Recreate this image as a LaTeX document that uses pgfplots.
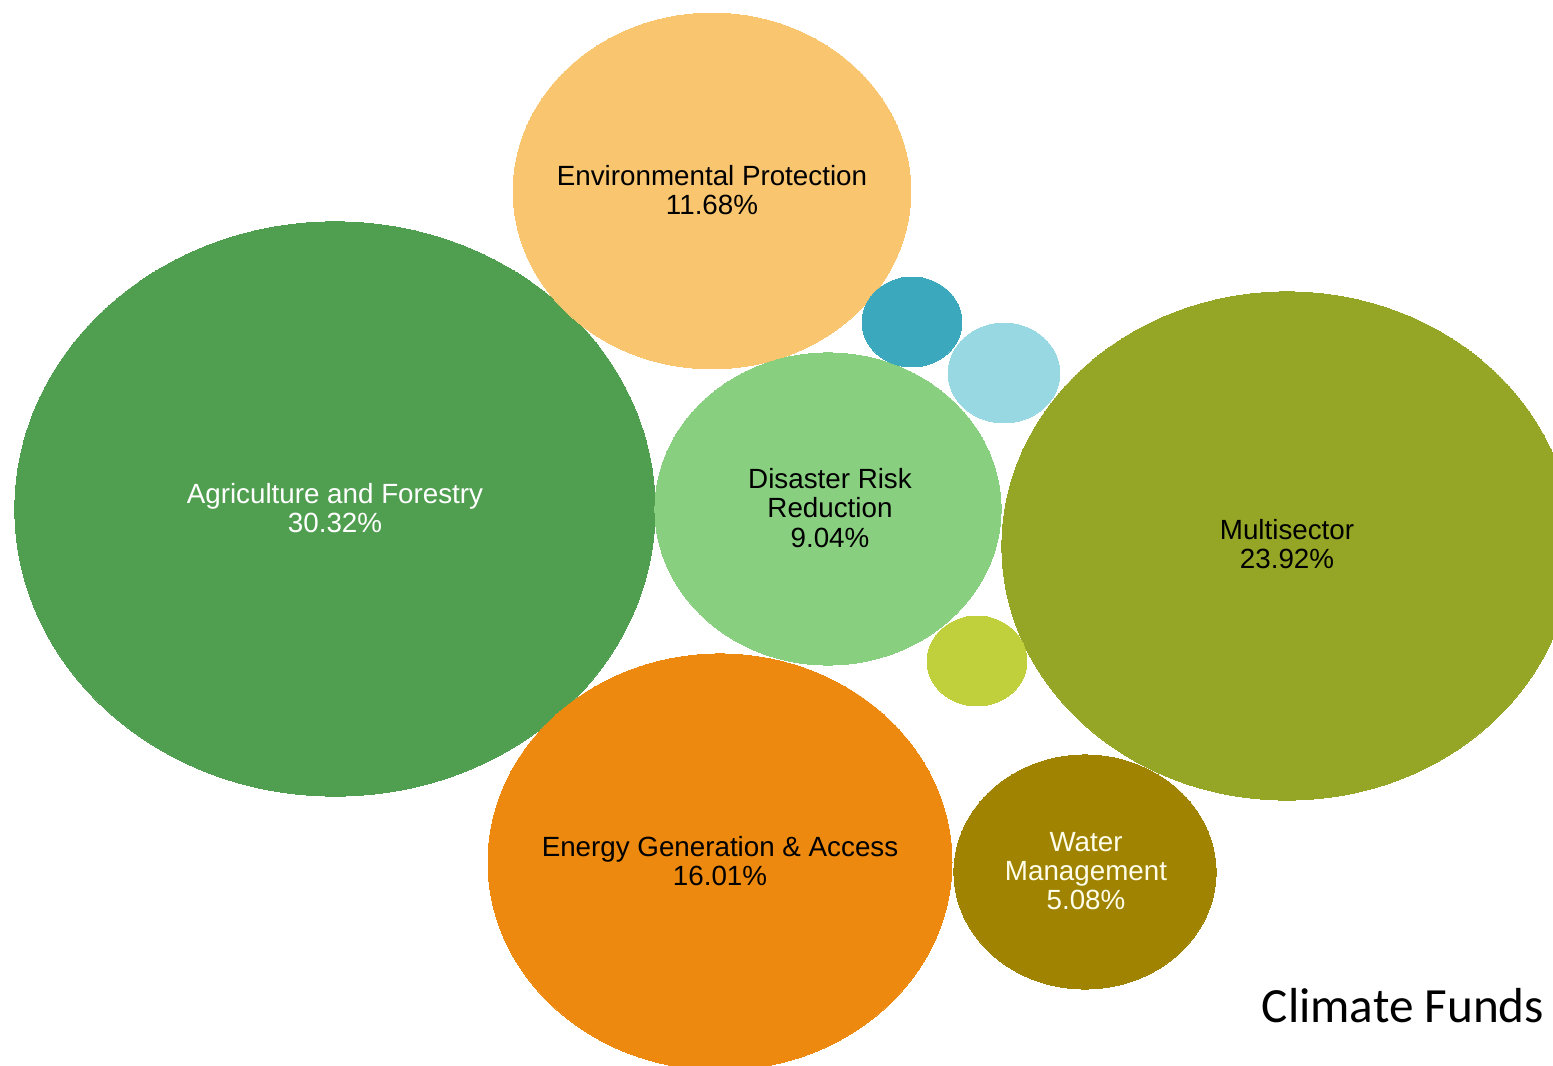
\documentclass[border=0pt]{standalone}
\usepackage{pgfplots}
\pgfplotsset{compat=1.18}
\usepackage{fontspec}
\setmainfont{Liberation Sans}
\newfontfamily\calib{Carlito}
\definecolor{cAgr}{RGB}{80,158,80}
\definecolor{cEnv}{RGB}{249,197,110}
\definecolor{cDis}{RGB}{136,207,128}
\definecolor{cMul}{RGB}{149,165,38}
\definecolor{cEne}{RGB}{237,137,14}
\definecolor{cWat}{RGB}{160,131,0}
\definecolor{cTea}{RGB}{60,168,190}
\definecolor{cLbl}{RGB}{152,216,227}
\definecolor{cYgr}{RGB}{192,207,60}
\begin{document}
\begin{tikzpicture}
\begin{axis}[
  scale only axis, width=15.53cm, height=10.66cm,
  xmin=0, xmax=1553, ymin=0, ymax=1066, y dir=reverse,
  hide axis, clip=true, clip marker paths=true,
  every axis plot/.append style={only marks, mark=*},
]
% bubble centres in image units; mark size = vertical radius (pt), xscale = horizontal stretch
\addplot[color=cAgr, mark options={fill=cAgr, draw=cAgr, line width=0pt, xscale=1.115}, mark size=81.7pt] coordinates {(335,509)};
\addplot[color=cEnv, mark options={fill=cEnv, draw=cEnv, line width=0pt, xscale=1.118}, mark size=50.6pt] coordinates {(712,191)};
\addplot[color=cDis, mark options={fill=cDis, draw=cDis, line width=0pt, xscale=1.109}, mark size=44.4pt] coordinates {(828,509)};
\addplot[color=cMul, mark options={fill=cMul, draw=cMul, line width=0pt, xscale=1.122}, mark size=72.3pt] coordinates {(1287,546)};
\addplot[color=cEne, mark options={fill=cEne, draw=cEne, line width=0pt, xscale=1.115}, mark size=59.2pt] coordinates {(720,862)};
\addplot[color=cWat, mark options={fill=cWat, draw=cWat, line width=0pt, xscale=1.12}, mark size=33.3pt] coordinates {(1085,872)};
\addplot[color=cTea, mark options={fill=cTea, draw=cTea, line width=0pt, xscale=1.11}, mark size=12.8pt] coordinates {(912,322)};
\addplot[color=cLbl, mark options={fill=cLbl, draw=cLbl, line width=0pt, xscale=1.12}, mark size=14.2pt] coordinates {(1004,373)};
\addplot[color=cYgr, mark options={fill=cYgr, draw=cYgr, line width=0pt, xscale=1.11}, mark size=12.8pt] coordinates {(977,661)};
\begin{scope}[every node/.style={align=center, font=\fontsize{7.9}{8.3}\selectfont, inner sep=0pt}]
\node at (axis cs:712,190) {Environmental Protection\\11.68\%};
\node[text=white] at (axis cs:335,508) {Agriculture and Forestry\\30.32\%};
\node at (axis cs:830,508) {Disaster Risk\\Reduction\\9.04\%};
\node at (axis cs:1287,544) {Multisector\\23.92\%};
\node at (axis cs:720,861) {Energy Generation \& Access\\16.01\%};
\node[text=white!92!yellow] at (axis cs:1086,871) {Water\\Management\\5.08\%};
\end{scope}
\node[font=\calib\fontsize{14}{16}\selectfont, inner sep=0pt] at (axis cs:1403,1006) {Climate Funds};
\end{axis}
\pgfresetboundingbox
\path (current axis.south west) rectangle (current axis.north east);
\end{tikzpicture}
\end{document}
